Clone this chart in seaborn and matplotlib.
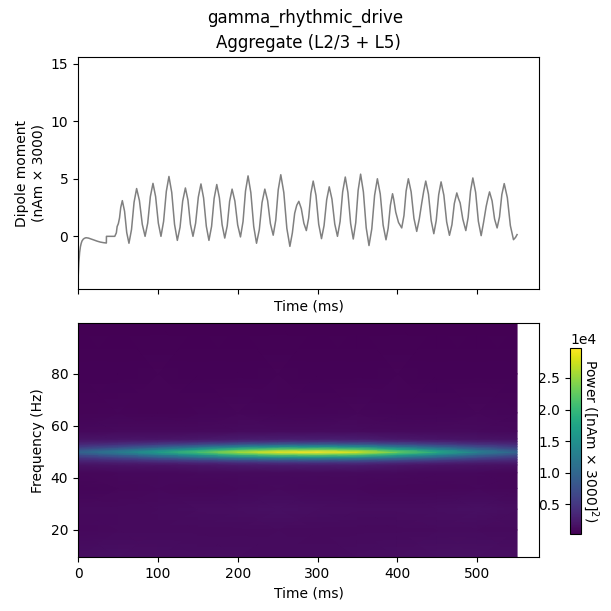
import numpy as np
import pandas as pd
import matplotlib
matplotlib.use("Agg")
import matplotlib.pyplot as plt
from matplotlib.ticker import ScalarFormatter
import seaborn as sns

# ---------------- data: aggregate dipole (nAm x 3000) ----------------
dipole_time = [
    0, 0.5, 1, 1.5, 2, 3, 4, 5, 6.5, 8, 10, 13, 16, 20, 24, 28, 32, 35.5, 35.6, 46,
    48, 49, 50.5, 52, 53.5, 55.5,
    58.3, 61.0, 63.8, 67.0, 70.2, 73.4, 76.9, 80.5, 84.0, 87.3, 90.6, 93.9,
    97.2, 100.6, 103.9, 107.2, 110.6, 113.9, 117.4, 120.9, 124.4, 127.8, 131.1, 134.5,
    137.7, 140.8, 144.0, 147.3, 150.7, 154.0, 157.3, 160.7, 164.0, 167.3, 170.5, 173.8,
    177.1, 180.5, 183.8, 186.9, 189.9, 193.0, 196.5, 200.0, 203.5, 206.7, 209.8, 213.0,
    216.5, 220.1, 223.6, 227.1, 230.5, 234.0, 237.5, 241.0, 244.5, 247.7, 250.8, 254.0,
    257.8, 261.6, 265.4, 268.5, 271.4, 274.0, 276.6, 279.7, 282.9, 286.0, 288.9, 291.7, 294.6,
    298.1, 301.5, 305.0, 308.2, 311.5, 314.7, 318.1, 321.6, 325.0, 328.3, 331.5, 334.8,
    338.1, 341.5, 344.8, 347.9, 350.9, 354.0, 357.5, 361.0, 364.5, 368.0, 371.5, 375.0,
    378.6, 382.2, 385.8, 388.5, 391.3, 394.0, 395.5, 398.0, 401.5, 405.5, 408.3, 411.0, 413.8,
    417.3, 420.8, 424.3, 427.5, 430.6, 433.0, 435.6, 439.0, 442.4, 445.7, 448.7, 451.8, 454.8,
    458.3, 461.8, 465.3, 468.4, 471.4, 474.5, 476.5, 478.7, 482.0, 485.8, 488.7, 491.7, 494.6,
    498.1, 501.5, 505.0, 508.0, 511.3, 513.5, 515.5, 518.7, 521.8, 525.0, 528.0, 530.9, 533.9,
    537.8, 541.6, 545.5, 548.0, 550.0,
]
dipole_value = [
    -3.8, -3.0, -2.3, -1.8, -1.4, -0.9, -0.6, -0.4, -0.25, -0.17, -0.12, -0.15, -0.22, -0.32, -0.42, -0.5, -0.55, -0.58, 0.0, 0.0,
    0.3, 0.85, 1.1, 1.6, 2.5, 3.1,
    2.18, 0.33, -0.6, 0.59, 2.96, 4.15, 3.11, 1.04, 0.0, 1.15, 3.45, 4.6,
    3.45, 1.15, 0.0, 1.3, 3.9, 5.2, 3.81, 1.04, -0.35, 0.79, 3.06, 4.2,
    3.15, 1.05, 0.0, 1.14, 3.41, 4.55, 3.33, 0.88, -0.35, 0.86, 3.29, 4.5,
    3.34, 1.01, -0.15, 0.91, 3.04, 4.1, 3.06, 0.99, -0.05, 1.28, 3.93, 5.25,
    3.79, 0.86, -0.6, 0.58, 2.93, 4.1, 3.1, 1.1, 0.1, 1.41, 4.04, 5.35,
    3.8, 0.69, -0.87, 0.3, 2.0, 2.7, 3.04, 2.41, 1.14, 0.5, 1.58, 3.73, 4.8,
    3.55, 1.05, -0.2, 0.93, 3.18, 4.3, 3.23, 1.08, 0.0, 1.29, 3.86, 5.15,
    3.8, 1.12, -0.23, 1.18, 3.99, 5.4, 3.85, 0.75, -0.8, 0.65, 3.55, 5.0,
    3.68, 0.98, -0.3, 0.7, 2.7, 3.7, 3.2, 2.1, 1.2, 0.73, 1.8, 3.93, 5.0,
    3.86, 1.57, 0.43, 1.5, 2.9, 3.9, 4.8, 3.66, 1.37, 0.23, 1.36, 3.61, 4.73,
    3.57, 1.25, 0.09, 1.01, 2.85, 3.77, 3.3, 2.9, 1.5, 0.5, 1.64, 3.93, 5.07,
    3.82, 1.31, 0.06, 1.2, 2.6, 3.3, 3.86, 3.08, 1.51, 0.73, 1.69, 3.62, 4.58,
    3.36, 0.93, -0.29, -0.1, 0.15,
]

# ---------------- data: time-frequency power (units of 1e4 [nAm x 3000]^2) ----------------
tfr_time = [0, 50, 100, 150, 200, 250, 300, 350, 400, 450, 500, 550]
tfr_freq = [9.5, 20, 28, 36, 42, 45, 46, 47, 48, 49, 50, 51, 52, 53, 54, 55, 58, 65, 80, 99.5]
tfr_power_e4 = [
    [0.14, 0.15, 0.14, 0.13, 0.13, 0.12, 0.12, 0.13, 0.14, 0.15, 0.15, 0.14],  # 9.5
    [0.09, 0.10, 0.11, 0.10, 0.11, 0.12, 0.11, 0.10, 0.11, 0.12, 0.12, 0.11],  # 20
    [0.10, 0.11, 0.12, 0.13, 0.14, 0.15, 0.14, 0.13, 0.13, 0.14, 0.15, 0.13],  # 28
    [0.07, 0.08, 0.09, 0.08, 0.09, 0.10, 0.09, 0.09, 0.08, 0.08, 0.09, 0.08],  # 36
    [0.08, 0.09, 0.09, 0.10, 0.11, 0.11, 0.11, 0.10, 0.10, 0.09, 0.09, 0.08],  # 42
    [0.17, 0.18, 0.19, 0.21, 0.24, 0.26, 0.27, 0.26, 0.22, 0.19, 0.17, 0.16],  # 45
    [0.25, 0.28, 0.32, 0.37, 0.43, 0.47, 0.48, 0.46, 0.39, 0.33, 0.28, 0.25],  # 46
    [0.36, 0.44, 0.54, 0.66, 0.80, 0.88, 0.90, 0.85, 0.71, 0.58, 0.45, 0.37],  # 47
    [0.52, 0.67, 0.87, 1.10, 1.36, 1.51, 1.55, 1.46, 1.20, 0.94, 0.70, 0.52],  # 48
    [0.74, 0.98, 1.29, 1.64, 2.03, 2.26, 2.32, 2.18, 1.79, 1.40, 1.01, 0.74],  # 49
    [0.95, 1.25, 1.65, 2.10, 2.60, 2.90, 2.97, 2.80, 2.30, 1.80, 1.30, 0.95],  # 50
    [0.74, 0.98, 1.29, 1.64, 2.03, 2.26, 2.32, 2.18, 1.79, 1.40, 1.01, 0.74],  # 51
    [0.52, 0.67, 0.87, 1.10, 1.36, 1.51, 1.55, 1.46, 1.20, 0.94, 0.70, 0.52],  # 52
    [0.36, 0.44, 0.54, 0.66, 0.80, 0.88, 0.90, 0.85, 0.71, 0.58, 0.45, 0.37],  # 53
    [0.25, 0.28, 0.32, 0.37, 0.43, 0.47, 0.48, 0.46, 0.39, 0.33, 0.28, 0.25],  # 54
    [0.17, 0.18, 0.19, 0.21, 0.24, 0.26, 0.27, 0.26, 0.22, 0.19, 0.17, 0.16],  # 55
    [0.09, 0.10, 0.10, 0.11, 0.12, 0.12, 0.12, 0.12, 0.11, 0.10, 0.10, 0.09],  # 58
    [0.06, 0.07, 0.06, 0.07, 0.08, 0.07, 0.07, 0.08, 0.07, 0.07, 0.08, 0.07],  # 65
    [0.05, 0.05, 0.06, 0.05, 0.05, 0.06, 0.05, 0.05, 0.06, 0.05, 0.05, 0.05],  # 80
    [0.03, 0.04, 0.03, 0.04, 0.03, 0.03, 0.04, 0.03, 0.04, 0.03, 0.04, 0.03],  # 99.5
]

suptitle_text = "gamma_rhythmic_drive"
title_text = "Aggregate (L2/3 + L5)"

# ---------------- figure ----------------
fig = plt.figure(figsize=(6.11, 6.11), dpi=100)
ax_top = fig.add_axes([0.1277, 0.5265, 0.7545, 0.3807])
ax_bot = fig.add_axes([0.1277, 0.0880, 0.7545, 0.3830], sharex=ax_top)
cax = fig.add_axes([0.9330, 0.1260, 0.0180, 0.3040])

df = pd.DataFrame({"time": dipole_time, "dipole": dipole_value})
sns.lineplot(data=df, x="time", y="dipole", ax=ax_top, color="grey",
             linewidth=1.1, estimator=None, sort=False)
ax_top.set_ylim(-4.6, 15.6)
ax_top.set_xlim(0, 577.5)
ax_top.set_xlabel("Time (ms)")
ax_top.set_ylabel("Dipole moment\n(nAm × 3000)")
ax_top.set_title(title_text)
ax_top.tick_params(labelbottom=False)

T, F = np.meshgrid(np.array(tfr_time, float), np.array(tfr_freq, float))
P = np.array(tfr_power_e4) * 1e4
mesh = ax_bot.pcolormesh(T, F, P, cmap="viridis", shading="gouraud")
ax_bot.set_ylim(9.5, 99.5)
ax_bot.set_xlim(0, 577.5)
ax_bot.set_yticks([20, 40, 60, 80])
ax_bot.set_xticks([0, 100, 200, 300, 400, 500])
ax_bot.set_xlabel("Time (ms)")
ax_bot.set_ylabel("Frequency (Hz)")

fmt = ScalarFormatter(useMathText=False)
fmt.set_powerlimits((0, 0))
cb = fig.colorbar(mesh, cax=cax, format=fmt)
cax.yaxis.set_ticks_position("left")
cax.yaxis.set_label_position("right")
cb.set_label("Power ([nAm × 3000]$^2$)", rotation=270, labelpad=14)

fig.suptitle(suptitle_text, y=0.985)
fig.savefig("out.png", dpi=100)
